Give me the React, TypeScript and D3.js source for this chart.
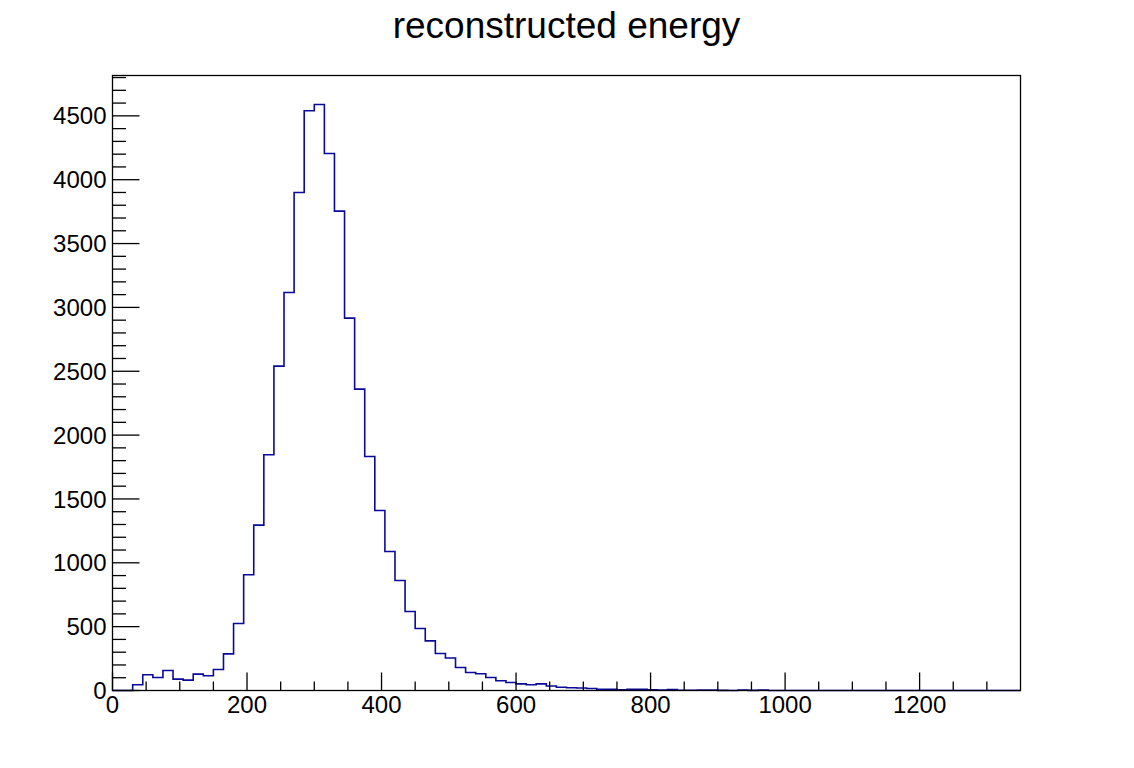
import React from "react";
import * as d3 from "d3";

// ---- data ----
const binWidth = 15;
const xRange: [number, number] = [0, 1350];
const yRange: [number, number] = [0, 4816];
const counts: number[] = [
  0, 0, 45, 123, 102, 157, 89, 81, 128, 115,
  165, 287, 525, 906, 1295, 1846, 2540, 3117, 3900, 4540,
  4589, 4205, 3754, 2916, 2360, 1832, 1410, 1089, 861, 619,
  486, 389, 290, 254, 180, 141, 131, 102, 76, 63,
  52, 45, 52, 35, 25, 22, 20, 16, 10, 10,
  5, 10, 9, 5, 3, 8, 2, 2, 4, 4,
  1, 0, 4, 1, 4, 0, 0, 0, 0, 0,
  0, 0, 0, 0, 0, 0, 0, 0, 0, 0,
  0, 0, 0, 0, 0, 0, 0, 0, 0, 0,
];
const xMajorTicks = [0, 200, 400, 600, 800, 1000, 1200];
const yMajorTicks = [0, 500, 1000, 1500, 2000, 2500, 3000, 3500, 4000, 4500];
const title = "reconstructed energy";

const W = 1134;
const H = 768;
const frame = { left: 112.5, right: 1020.5, top: 75.5, bottom: 690.5 };
const font = "'Liberation Sans', Arial, Helvetica, sans-serif";

export default function App() {
  const x = d3.scaleLinear().domain(xRange).range([frame.left, frame.right]);
  const y = d3.scaleLinear().domain(yRange).range([frame.bottom, frame.top]);

  const xMinor = d3.range(0, xRange[1] + 0.001, 50).filter((v) => v % 200 !== 0 && v < xRange[1]);
  const yMinor = d3.range(0, yRange[1], 100).filter((v) => v % 500 !== 0);

  const pts: [number, number][] = [[x(0), y(0)]];
  counts.forEach((c, i) => {
    pts.push([x(i * binWidth), y(c)]);
    pts.push([x((i + 1) * binWidth), y(c)]);
  });
  pts.push([x(counts.length * binWidth), y(0)]);
  const line = d3.line<[number, number]>().x((d) => d[0]).y((d) => d[1]);

  return (
    <svg width={W} height={H} style={{ position: "absolute", left: 0, top: 0, background: "#fff" }}>
      <rect x={0} y={0} width={W} height={H} fill="#fff" />
      <text x={(frame.left + frame.right) / 2} y={38} textAnchor="middle" fontFamily={font} fontSize={37} fill="#000">
        {title}
      </text>
      <path d={line(pts) || ""} fill="none" stroke="#0a0a9a" strokeWidth={1.6} />
      <rect x={frame.left} y={frame.top} width={frame.right - frame.left} height={frame.bottom - frame.top} fill="none" stroke="#000" strokeWidth={1.3} />
      {/* x ticks */}
      {xMajorTicks.map((v) => (
        <g key={"xm" + v}>
          <line x1={x(v)} x2={x(v)} y1={frame.bottom} y2={frame.bottom - 18} stroke="#000" strokeWidth={1.3} />
          <text x={x(v)} y={frame.bottom + 22} textAnchor="middle" fontFamily={font} fontSize={24} fill="#000">
            {v}
          </text>
        </g>
      ))}
      {xMinor.map((v) => (
        <line key={"xn" + v} x1={x(v)} x2={x(v)} y1={frame.bottom} y2={frame.bottom - 9} stroke="#000" strokeWidth={1.3} />
      ))}
      {/* y ticks */}
      {yMajorTicks.map((v) => (
        <g key={"ym" + v}>
          <line x1={frame.left} x2={frame.left + 27} y1={y(v)} y2={y(v)} stroke="#000" strokeWidth={1.3} />
          <text x={frame.left - 6} y={y(v)} dy="0.36em" textAnchor="end" fontFamily={font} fontSize={24} fill="#000">
            {v}
          </text>
        </g>
      ))}
      {yMinor.map((v) => (
        <line key={"yn" + v} x1={frame.left} x2={frame.left + 13.5} y1={y(v)} y2={y(v)} stroke="#000" strokeWidth={1.3} />
      ))}
    </svg>
  );
}
